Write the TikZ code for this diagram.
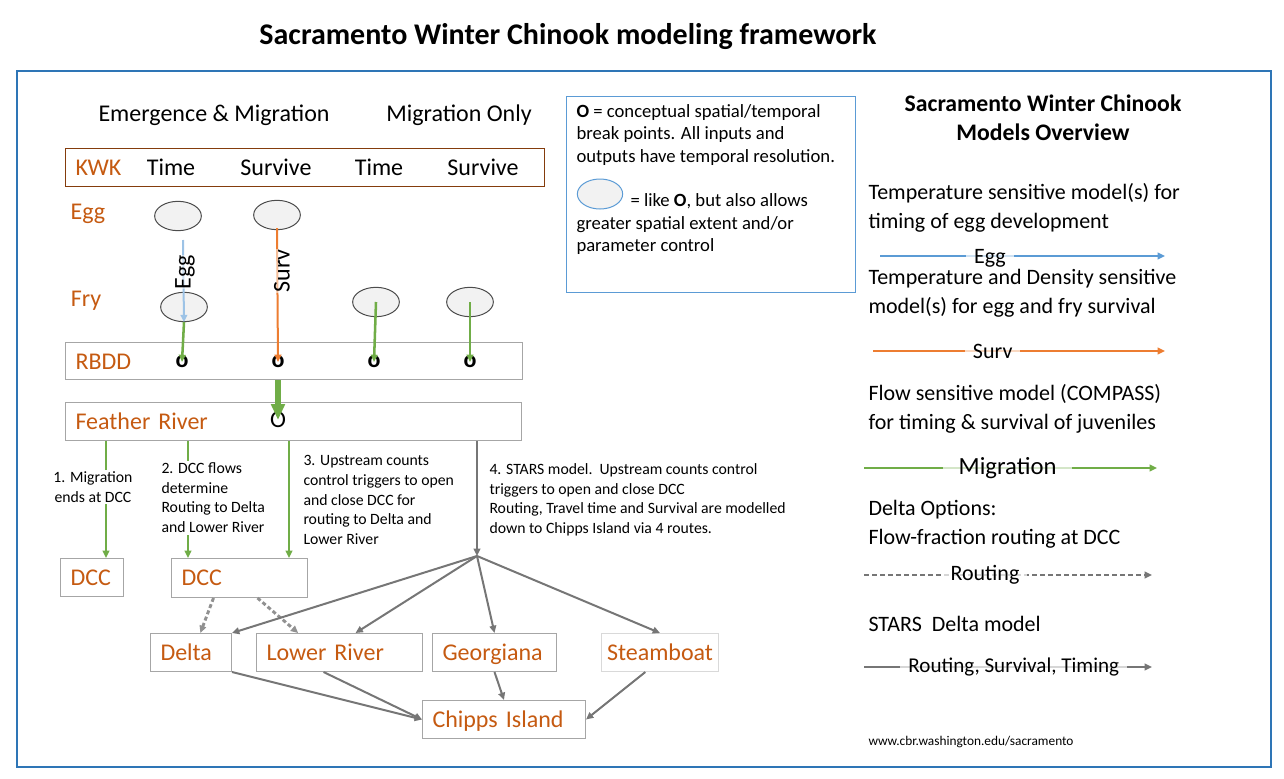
\documentclass[tikz,border=0pt]{standalone}
\usepackage{fontspec}
\setmainfont{Carlito}
\usetikzlibrary{arrows.meta,shapes.geometric}

\definecolor{rivorange}{RGB}{197,90,17}
\definecolor{kwkbrown}{RGB}{132,60,12}
\definecolor{boxgray}{RGB}{166,166,166}
\definecolor{framblue}{RGB}{46,117,182}
\definecolor{infoblue}{RGB}{91,155,213}
\definecolor{migreen}{RGB}{112,173,71}
\definecolor{survorange}{RGB}{237,125,49}
\definecolor{egglight}{RGB}{157,195,230}
\definecolor{eggblue}{RGB}{91,155,213}
\definecolor{starsgray}{RGB}{118,118,118}
\definecolor{ellfill}{RGB}{242,242,242}

\newcommand\titlefont{\fontsize{22.5}{27}\selectfont\bfseries}
\newcommand\headfont{\fontsize{17.8}{21.75}\selectfont\bfseries}
\newcommand\labelfont{\fontsize{18}{21}\selectfont}
\newcommand\legfont{\fontsize{16.5}{21.75}\selectfont}
\newcommand\infofont{\fontsize{14}{16.9}\selectfont}
\newcommand\notefont{\fontsize{11.8}{14.8}\selectfont}
\newcommand\boxstrut{\rule[-0.27em]{0pt}{1.19em}}

\tikzset{every picture/.style={line width=0.75pt}}

\begin{document}
\begin{tikzpicture}[x=0.75pt,y=0.75pt,yscale=-1,xscale=1,
  rbox/.style={draw=boxgray, anchor=north west, align=left, inner xsep=7.5pt,
    minimum height=28.5pt, font=\labelfont, text=rivorange, execute at begin node=\boxstrut},
  stage/.style={ellipse, draw=black!70, fill=ellfill, minimum width=35pt, minimum height=22pt, inner sep=0pt},
  omark/.style={font=\labelfont\bfseries, inner sep=0pt},
  lbl/.style={font=\labelfont, inner sep=0pt},
  note/.style={font=\notefont, align=left, fill=white, inner sep=1.5pt},
  legtext/.style={font=\legfont, align=left, anchor=north west, inner sep=0pt},
  tip/.style={-{Triangle[length=5.5pt,width=5pt]}},
  mig/.style={tip, draw=migreen, line width=1.9pt},
  surv/.style={tip, draw=survorange, line width=1.5pt},
  egg/.style={tip, draw=egglight, line width=1.5pt},
  stars/.style={tip, draw=starsgray, line width=1.5pt},
  route/.style={tip, draw=starsgray!80, line width=2.2pt, dash pattern=on 3pt off 2pt},
  legbg/.style={font=\legfont, fill=white, fill opacity=0.7, text opacity=1, inner xsep=6pt, inner ysep=1pt}]
\useasboundingbox (0,0) rectangle (1284,778);

% Title and frame
\node[font=\titlefont] (title) at (568,37) {Sacramento Winter Chinook modeling framework};
\node[draw=framblue, line width=1.2pt, anchor=north west, minimum width=940.5pt, minimum height=522pt, inner sep=0pt] (frame) at (16,70) {};

% Column headings
\node[lbl] (emhead) at (214,115) {Emergence \& Migration};
\node[lbl] (mohead) at (459,115) {Migration Only};

% KWK row
\node[rbox, draw=kwkbrown, text width=344.25pt] (kwk) at (65,148) {KWK};
\node[lbl] (time1) at (171,167) {Time};
\node[lbl] (surv1) at (276,167) {Survive};
\node[lbl] (time2) at (379,167) {Time};
\node[lbl] (surv2) at (483,167) {Survive};

% Stages
\node[lbl, text=rivorange] (egglab) at (88,214) {Egg};
\node[lbl, text=rivorange] (frylab) at (86,301) {Fry};
\node[stage] (egg1) at (178,216) {};
\node[stage] (egg2) at (277,215) {};
\node[stage] (fry1) at (184,307) {};
\node[stage] (fry3) at (376,302) {};
\node[stage] (fry4) at (470,302) {};

% RBDD and Feather River
\node[rbox, text width=327.75pt, minimum height=27.75pt] (rbdd) at (65,342) {RBDD};
\node[omark] (o1) at (182,362) {o};
\node[omark] (o2) at (278,362) {o};
\node[omark] (o3) at (374,362) {o};
\node[omark] (o4) at (470,362) {o};
\node[rbox, text width=327pt] (feather) at (65,402) {Feather River};
\node[lbl] (fO) at (278,420) {O};

% Stage connectors
\coordinate (eggtop) at (183,240);
\draw[egg] (eggtop) -- (fry1.south);
\node[lbl, rotate=90, fill=white, fill opacity=0.5, text opacity=1] (eggrot) at (185,272) {Egg};
\draw[mig] (fry1.south) -- (o1.center);
\draw[surv] ([yshift=-1.5pt]egg2.south) -- (o2.center);
\node[lbl, rotate=90, fill=white, fill opacity=0.5, text opacity=1] (survrot) at (282,271) {Surv};
\draw[mig] (fry3.center) -- (o3.center);
\draw[mig] (fry4.center) -- (o4.center);
\draw[migreen, line width=4pt, -{Triangle[length=12pt,width=10pt]}] (rbdd.south -| fO) -- (fO.center);

% DCC and Delta routes
\node[rbox, text width=32.25pt] (dcc1) at (60,558) {DCC};
\node[rbox, text width=87pt, minimum height=29.25pt] (dcc2) at (171,558) {DCC};
\node[rbox, text width=45.75pt] (delta) at (150,633) {Delta};
\node[rbox, text width=109.5pt] (lower) at (256,633) {Lower River};
\node[rbox, text width=78pt] (georg) at (432,633) {Georgiana};
\node[rbox, draw=black!15, text width=83.75pt, inner xsep=2pt, align=center] (steam) at (601,633) {Steamboat};
\node[rbox, text width=107.25pt] (chipps) at (422,700) {Chipps Island};

\coordinate (c1) at (106,0);
\coordinate (c2) at (188,0);
\coordinate (c3) at (289,0);
\coordinate (hub) at (477,556);
\draw[mig] (feather.south -| c1) -- (dcc1.north -| c1);
\draw[mig] (feather.south -| c2) -- (dcc2.north -| c2);
\draw[mig] (feather.south -| c3) -- (dcc2.north -| c3);
\draw[stars] (feather.south -| hub) -- (hub);

% Notes
\node[note, align=center] (note1) at (93,487) {1. Migration\\ends at DCC};
\node[note, anchor=north west] (note2) at (159,460) {2. DCC flows\\determine\\Routing to Delta\\and Lower River};
\node[note, anchor=north west, fill=none] (note3) at (301,453) {3. Upstream counts\\control triggers to open\\and close DCC for\\routing to Delta and\\Lower River};
\node[note, anchor=north west, fill=none] (note4) at (487,461) {4. STARS model.\ \ Upstream counts control\\triggers to open and close DCC\\Routing, Travel time and Survival are modelled\\down to Chipps Island via 4 routes.};

\draw[route] ([xshift=-19.5pt]dcc2.south) -- ([xshift=7pt]delta.north);
\draw[route] ([xshift=13.5pt]dcc2.south) -- ([xshift=-31pt]lower.north);
\draw[stars] (hub) -- (delta.north east);
\draw[stars] (hub) -- ([xshift=12pt]lower.north);
\draw[stars] (hub) -- (georg.north);
\draw[stars] (hub) -- (steam.north);
\draw[stars] (delta.south east) -- (chipps.west);
\draw[stars] ([xshift=-12pt]lower.south) -- (chipps.west);
\draw[stars] (georg.south) -- (chipps.north);
\draw[stars] ([xshift=-11pt]steam.south) -- (chipps.east);

% Info box
\node[draw=infoblue, anchor=north west, minimum width=216.75pt, minimum height=147pt, inner sep=0pt] (info) at (566,96) {};
\node[font=\infofont, align=left, anchor=north west, inner sep=0pt] (info1) at (576,104) {\textbf{O} = conceptual spatial/temporal\\break points. All inputs and\\outputs have temporal resolution.};
\node[ellipse, draw=infoblue, fill=ellfill, minimum width=34pt, minimum height=22.5pt, inner sep=0pt] (infoell) at (600,194) {};
\node[font=\infofont, anchor=west, inner sep=0pt] (info2) at (630,201) {= like \textbf{O}, but also allows};
\node[font=\infofont, align=left, anchor=north west, inner sep=0pt] (info3) at (576,216) {greater spatial extent and/or\\parameter control};

% Legend
\node[font=\headfont, align=center, anchor=north, inner sep=0pt] (leghead) at (1043,94) {Sacramento Winter Chinook\\Models Overview};
\node[legtext] (leg1) at (868,183) {Temperature sensitive model(s) for\\timing of egg development};
\coordinate (eggL) at (880,256);
\coordinate (eggR) at (1165,256);
\draw[tip, draw=eggblue, line width=1.9pt] (eggL) -- node[legbg, pos=0.386, yshift=-2pt] (eggkey) {Egg} (eggR);
\node[legtext] (leg2) at (868,269) {Temperature and Density sensitive\\model(s) for egg and fry survival};
\coordinate (survL) at (873,351);
\coordinate (survR) at (1165,351);
\draw[tip, draw=survorange, line width=1.9pt] (survL) -- node[legbg, pos=0.41] (survkey) {Surv} (survR);
\node[legtext] (leg3) at (868,384) {Flow sensitive model (COMPASS)\\for timing \& survival of juveniles};
\coordinate (migL) at (864,468);
\coordinate (migR) at (1157,468);
\draw[tip, draw=migreen, line width=1.9pt] (migL) -- node[legbg, font=\fontsize{18.5}{22}\selectfont, pos=0.49, inner xsep=12pt] (migkey) {Migration} (migR);
\node[legtext] (leg4) at (868,500) {Delta Options:\\Flow-fraction routing at DCC};
\coordinate (routeL) at (864,575);
\coordinate (routeR) at (1152,575);
\draw[tip, draw=starsgray, line width=1.6pt, dash pattern=on 4pt off 2pt] (routeL) -- node[legbg, pos=0.42] (routekey) {Routing} (routeR);
\node[font=\legfont, anchor=west, inner sep=0pt] (leg5) at (868,624) {STARS\ \ Delta model};
\coordinate (starsL) at (864,667);
\coordinate (starsR) at (1152,667);
\draw[tip, draw=starsgray, line width=1.6pt] (starsL) -- node[legbg, font=\fontsize{15.8}{20}\selectfont, pos=0.52] (starskey) {Routing, Survival, Timing} (starsR);
\node[font=\fontsize{10}{12}\selectfont, anchor=west, inner sep=0pt] (url) at (868,742) {www.cbr.washington.edu/sacramento};

\end{tikzpicture}
\end{document}
